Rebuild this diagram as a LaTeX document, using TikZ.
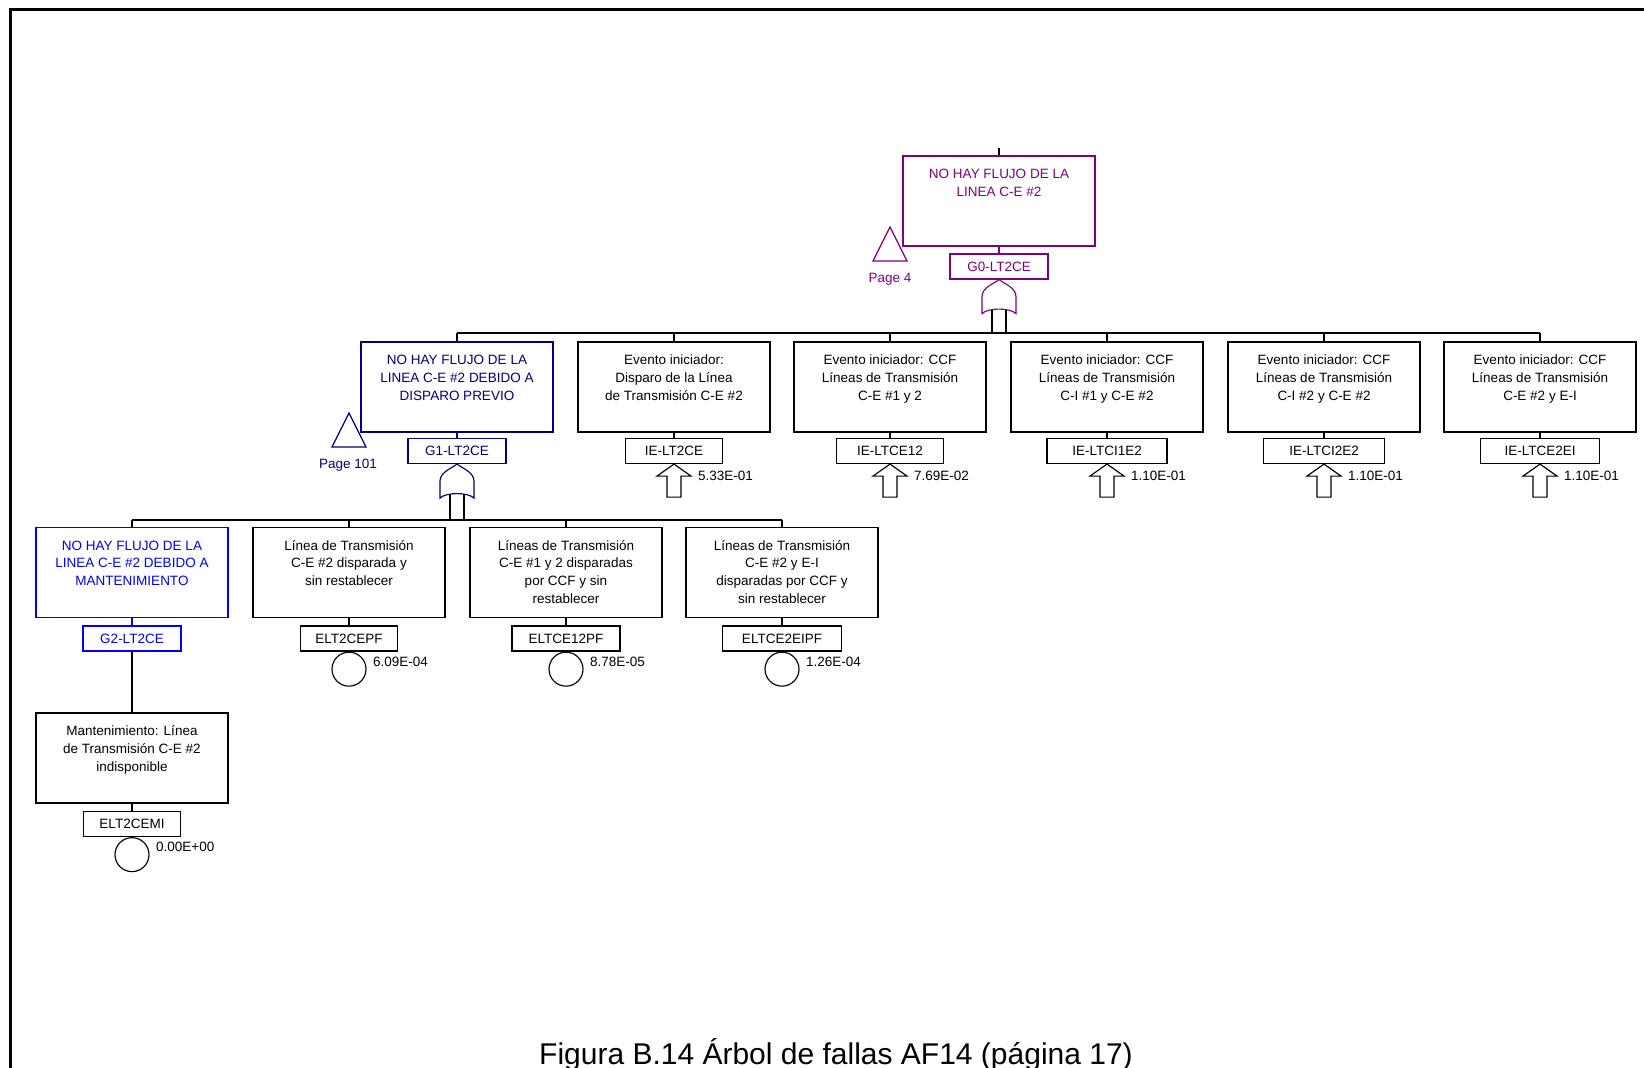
\documentclass[tikz,border=0pt]{standalone}
\usepackage{fontspec}
\setmainfont{Liberation Sans}
\definecolor{gpurple}{RGB}{128,0,128}
\definecolor{gnavy}{RGB}{0,0,128}
\definecolor{gblue}{RGB}{0,0,255}
% event text: top-aligned block inside a fixed-height box
\newcommand\evtext[1]{\parbox[c][90pt][t]{188pt}{\centering\rule{0pt}{22.5pt}#1}}
\begin{document}
\begin{tikzpicture}[x=1pt,y=-1pt,
  every node/.style={font=\fontsize{13.5}{17.8}\selectfont},
  evbox/.style={draw, line width=1.15pt, minimum width=192pt, minimum height=90pt, inner sep=0pt},
  tag/.style={draw, line width=1.15pt, minimum height=25pt, inner sep=0pt},
  val/.style={anchor=west, inner sep=0pt},
  link/.style={line width=1.15pt},
  basic/.style={draw, circle, line width=1.15pt, minimum size=34pt, inner sep=0pt, anchor=north},
  orgate/.pic={
    \draw[line width=1.15pt] (0,0) .. controls (-5,4) and (-17,8) .. (-17,17) -- (-17,34)
      .. controls (-11,28) and (11,28) .. (17,34) -- (17,17)
      .. controls (17,8) and (5,4) .. (0,0) -- cycle;
    \coordinate (-in1) at (-7,30);
    \coordinate (-in2) at (7,30);
  },
  iearrow/.pic={
    \draw[line width=1.15pt] (0,0) -- (17,12) -- (7,12) -- (7,33) -- (-7,33) -- (-7,12) -- (-17,12) -- cycle;
  },
  xfer/.pic={
    \draw[line width=1.15pt] (0,0) -- (17,34) -- (-17,34) -- cycle;
  }
]
\useasboundingbox (0,0) rectangle (1644,1068);
% page frame
\draw[line width=3pt] (10,1068) -- (10,9) -- (1644,9);

% ---------- top event ----------
\coordinate (top) at (999,148);
\node[evbox, draw=gpurple, text=gpurple] (g0) at (999,201) {\evtext{NO HAY FLUJO DE LA\\LINEA C-E \#2}};
\node[tag, draw=gpurple, text=gpurple, minimum width=98pt] (g0t) at (999,266.5) {G0-LT2CE};
\draw[link] (top) -- (g0.north);
\draw[link, gpurple] (g0.south) -- (g0t.north);
\pic[gpurple] (g0gate) at (g0t.south) {orgate};
\pic[gpurple] at (890,227) {xfer};
\node[text=gpurple] (pg4) at (890,279) {Page 4};

% ---------- second level ----------
\coordinate (b0) at (999,333);
\node[evbox, draw=gnavy, text=gnavy] (g1) at (457,387) {\evtext{NO HAY FLUJO DE LA\\LINEA C-E \#2 DEBIDO A\\DISPARO PREVIO}};
\node[evbox] (ie1) at (674,387) {\evtext{Evento iniciador:\\Disparo de la Línea\\de Transmisión C-E \#2}};
\node[evbox] (ie2) at (890,387) {\evtext{Evento iniciador: CCF\\Líneas de Transmisión\\C-E \#1 y 2}};
\node[evbox] (ie3) at (1107,387) {\evtext{Evento iniciador: CCF\\Líneas de Transmisión\\C-I \#1 y C-E \#2}};
\node[evbox] (ie4) at (1324,387) {\evtext{Evento iniciador: CCF\\Líneas de Transmisión\\C-I \#2 y C-E \#2}};
\node[evbox] (ie5) at (1540,387) {\evtext{Evento iniciador: CCF\\Líneas de Transmisión\\C-E \#2 y E-I}};

\draw[link] (g0gate-in1) -- (g0gate-in1 |- b0);
\draw[link] (g0gate-in2) -- (g0gate-in2 |- b0);
\draw[link] (g1.north |- b0) -- (ie5.north |- b0);
\foreach \c in {g1,ie1,ie2,ie3,ie4,ie5}
  \draw[link] (\c.north |- b0) -- (\c.north);

\node[tag, draw=gnavy, text=gnavy, minimum width=98pt] (g1t) at (457,451) {G1-LT2CE};
\draw[link, gnavy] (g1.south) -- (g1t.north);
\pic[gnavy] (g1gate) at (g1t.south) {orgate};
\pic[gnavy] at (349,413) {xfer};
\node[text=gnavy] (pg101) at (348,465) {Page 101};

\node[tag, minimum width=97pt] (ie1t) at (674,451) {IE-LT2CE};
\node[tag, minimum width=107pt] (ie2t) at (890,451) {IE-LTCE12};
\node[tag, minimum width=120pt] (ie3t) at (1107,451) {IE-LTCI1E2};
\node[tag, minimum width=121pt] (ie4t) at (1324,451) {IE-LTCI2E2};
\node[tag, minimum width=119pt] (ie5t) at (1540,451) {IE-LTCE2EI};
\foreach \c in {ie1,ie2,ie3,ie4,ie5} {
  \draw[link] (\c.south) -- (\c t.north);
  \pic at (\c t.south) {iearrow};
}
\node[val] (v1) at (698,476) {5.33E-01};
\node[val] (v2) at (914,476) {7.69E-02};
\node[val] (v3) at (1131,476) {1.10E-01};
\node[val] (v4) at (1348,476) {1.10E-01};
\node[val] (v5) at (1564,476) {1.10E-01};

% ---------- third level ----------
\coordinate (b1) at (457,520);
\node[evbox, draw=gblue, text=gblue] (g2) at (132,572.5) {\evtext{NO HAY FLUJO DE LA\\LINEA C-E \#2 DEBIDO A\\MANTENIMIENTO}};
\node[evbox] (e1) at (349,572.5) {\evtext{Línea de Transmisión\\C-E \#2 disparada y\\sin restablecer}};
\node[evbox] (e2) at (566,572.5) {\evtext{Líneas de Transmisión\\C-E \#1 y 2 disparadas\\por CCF y sin\\restablecer}};
\node[evbox] (e3) at (782,572.5) {\evtext{Líneas de Transmisión\\C-E \#2 y E-I\\disparadas por CCF y\\sin restablecer}};

\draw[link] (g1gate-in1) -- (g1gate-in1 |- b1);
\draw[link] (g1gate-in2) -- (g1gate-in2 |- b1);
\draw[link] (g2.north |- b1) -- (e3.north |- b1);
\foreach \c in {g2,e1,e2,e3}
  \draw[link] (\c.north |- b1) -- (\c.north);

\node[tag, draw=gblue, text=gblue, minimum width=98pt] (g2t) at (132,638.5) {G2-LT2CE};
\draw[link, gblue] (g2.south) -- (g2t.north);

\node[tag, minimum width=97pt] (e1t) at (349,638.5) {ELT2CEPF};
\node[tag, minimum width=108pt] (e2t) at (566,638.5) {ELTCE12PF};
\node[tag, minimum width=119pt] (e3t) at (782,638.5) {ELTCE2EIPF};
\foreach \c in {e1,e2,e3} {
  \draw[link] (\c.south) -- (\c t.north);
  \node[basic] (\c c) at (\c t.south) {};
}
\node[val] (v6) at (373,662) {6.09E-04};
\node[val] (v7) at (590,662) {8.78E-05};
\node[val] (v8) at (806,662) {1.26E-04};

% ---------- fourth level ----------
\node[evbox] (e4) at (132,758) {\evtext{Mantenimiento: Línea\\de Transmisión C-E \#2\\indisponible}};
\draw[link] (g2t.south) -- (e4.north);
\node[tag, minimum width=97pt] (e4t) at (132,824) {ELT2CEMI};
\draw[link] (e4.south) -- (e4t.north);
\node[basic] (e4c) at (e4t.south) {};
\node[val] (v9) at (156,847) {0.00E+00};

% caption
\node[anchor=base, font=\fontsize{30}{34}\selectfont] (cap) at (836,1064) {Figura B.14 Árbol de fallas AF14 (página 17)};
\end{tikzpicture}
\end{document}
